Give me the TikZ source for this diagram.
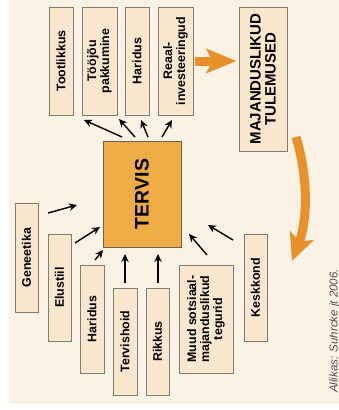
\documentclass[tikz,border=0pt]{standalone}
\usepackage{fontspec}
\setmainfont{Liberation Sans}
\newfontfamily\lab{Liberation Sans}
\usetikzlibrary{arrows.meta,calc}
\definecolor{bg}{HTML}{FBF2E6}
\definecolor{boxfill}{HTML}{F9E8CE}
\definecolor{boxline}{HTML}{7F7B75}
\definecolor{tervfill}{HTML}{EEAC45}
\definecolor{tervline}{HTML}{6E6150}
\definecolor{arrorange}{HTML}{E8912A}
\definecolor{citegray}{HTML}{505050}
\begin{document}
\begin{tikzpicture}[x=1pt,y=-1pt,
  box/.style={draw=boxline, line width=0.9pt, fill=boxfill, rotate=90, inner sep=0pt,
    align=center, font=\lab\bfseries\fontsize{12.4}{13}\selectfont},
  bigbox/.style={box, font=\lab\bfseries\fontsize{15}{15}\selectfont},
  tervbox/.style={draw=tervline, line width=0.9pt, fill=tervfill, rotate=90, inner sep=0pt,
    font=\bfseries\fontsize{19.5}{20}\selectfont},
  arr/.style={line width=1.4pt, -{Stealth[length=8pt,width=7.5pt]}},
  bigarr/.style={arrorange, line width=9pt},
  cite/.style={rotate=90, anchor=base, text=citegray, font=\itshape\fontsize{11.5}{12}\selectfont}]
\useasboundingbox (0,0) rectangle (339,410);
\fill[white] (0,0) rectangle (339,410);
\fill[bg] (9,0) rectangle (339,404);
% top boxes
\node[box, minimum width=108pt, minimum height=24pt] (toot) at (61,61) {Tootlikkus};
\node[box, minimum width=108pt, minimum height=35pt] (tooj) at (99.5,61) {Tööjõu\\pakkumine};
\node[box, minimum width=108pt, minimum height=24pt] (harit) at (137,61) {Haridus};
\node[box, minimum width=108pt, minimum height=35pt] (reaal) at (175.5,61) {Reaal-\\investeeringud};
\node[bigbox, minimum width=144pt, minimum height=48pt] (maj) at (263,79) {MAJANDUSLIKUD\\TULEMUSED};
% centre
\node[tervbox, minimum width=106pt, minimum height=78pt] (terv) at (142,194) {TERVIS};
% bottom boxes
\node[box, minimum width=109pt, minimum height=23pt] (gen) at (26.5,257.5) {Geneetika};
\node[box, minimum width=107pt, minimum height=23pt] (elu) at (59.5,287.5) {Elustiil};
\node[box, minimum width=108pt, minimum height=24pt] (harib) at (92,319) {Haridus};
\node[box, minimum width=107pt, minimum height=24pt] (terh) at (125,341.5) {Tervishoid};
\node[box, minimum width=107pt, minimum height=23pt] (rikk) at (157.5,341.5) {Rikkus};
\node[box, minimum width=108pt, minimum height=54pt] (muud) at (206,319) {Muud sotsiaal-\\majanduslikud\\tegurid};
\node[box, minimum width=107pt, minimum height=23pt] (kesk) at (255.5,287.5) {Keskkond};
% source
\node[cite] (src) at (337.5,331) {Allikas: Suhrcke jt 2006.};
% arrow end points
\coordinate (t1) at (122,137); \coordinate (h1) at (84,120);
\coordinate (t2) at (135,137); \coordinate (h2) at (119,119);
\coordinate (t3) at (148,137); \coordinate (h3) at (141,120);
\coordinate (t4) at (162,137); \coordinate (h4) at (172,120);
\coordinate (t5) at (48,213);  \coordinate (h5) at (77,205);
\coordinate (t6) at (75,243);  \coordinate (h6) at (100,227);
\coordinate (t7) at (95,260);  \coordinate (h7) at (103,250);
\coordinate (t8) at (125,283); \coordinate (h8) at (125,254);
\coordinate (t9) at (158,283); \coordinate (h9) at (158,254);
\coordinate (t10) at (207,255); \coordinate (h10) at (189,234);
\coordinate (t11) at (233,240); \coordinate (h11) at (208,225);
\foreach \i in {1,...,11} \draw[arr] (t\i) -- (h\i);
% orange arrows
\draw[bigarr, -{Stealth[length=30pt,width=24pt,inset=6pt]}]
  ($(reaal.south)+(2,0)$) -- ($(reaal.south -| maj.north)+(-2,0)$);
\coordinate (cs) at (296,137);
\coordinate (ce) at (292,261);
\draw[bigarr, -{Stealth[length=27pt,width=25pt,inset=6pt]}]
  (cs) .. controls (309,180) and (307,222) .. (ce);
\end{tikzpicture}
\end{document}
